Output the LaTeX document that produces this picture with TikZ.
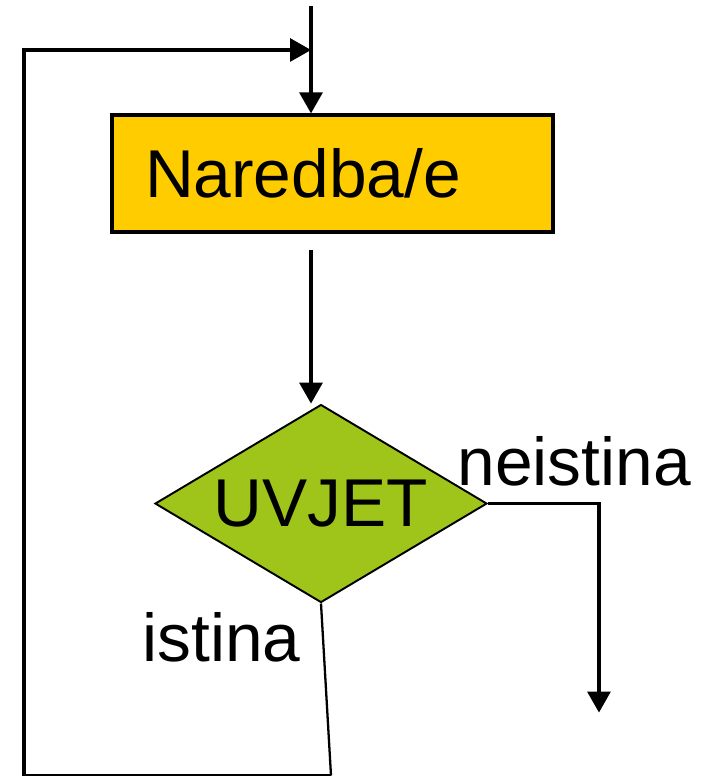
\documentclass[tikz,border=0pt]{standalone}
\usepackage{fontspec}
\setmainfont{Liberation Sans}
\usetikzlibrary{arrows.meta,positioning,shapes.geometric,calc}
\definecolor{stmtorange}{HTML}{FFCC00}
\definecolor{condgreen}{HTML}{9FC41A}

\begin{document}
\begin{tikzpicture}[node distance=3.4cm,>={Triangle[length=0.42cm,width=0.46cm]},line width=1.8pt]
    \tikzstyle{stmt}=[draw,line width=1.8pt,fill=stmtorange,text width=7.5cm,inner xsep=0.66cm,minimum height=2.34cm,align=left,font=\fontsize{38.5}{46}\selectfont]
    \tikzstyle{cond}=[diamond,aspect=1.68,draw,line width=1.1pt,fill=condgreen,minimum width=6.64cm,minimum height=3.96cm,inner sep=0pt,font=\fontsize{38.5}{46}\selectfont]
    \tikzstyle{lbl}=[inner sep=0pt,font=\fontsize{38.5}{46}\selectfont]
    \useasboundingbox (0,0) rectangle (14.14,15.52);
    \node[stmt] (naredba) at (6.65,12.05) {Naredba/e};
    \node[cond,below=of naredba,xshift=-0.23cm] (uvjet) {UVJET};
    \node[lbl,anchor=base west] (neist) at ($(uvjet.east)+(-0.64,0.36)$) {neistina};
    \node[lbl,anchor=base east] (ist) at ($(uvjet.south)+(-0.38,-1.16)$) {istina};
    % entry and loop-back joint
    \coordinate (entry) at (6.22,15.40);
    \coordinate (joint) at (6.22,14.52);
    \coordinate (loopcorner) at (0.48,14.52);
    \coordinate (loopend) at ($(uvjet.south)+(0.2,-3.44)$);
    \draw[->] (entry) -- (entry |- naredba.north);
    \draw[->] ($(naredba.south)+(-0.43,-0.32)$) coordinate (out) -- (out |- uvjet.north);
    \draw[->] (uvjet.east) -- ++(2.22,0) coordinate (exitcorner) -- ++(0,-4.18);
    \draw[line width=1.3pt] (uvjet.south) -- (loopend);
    \draw[->] (loopend) -| (loopcorner) -- (joint);
\end{tikzpicture}
\end{document}
